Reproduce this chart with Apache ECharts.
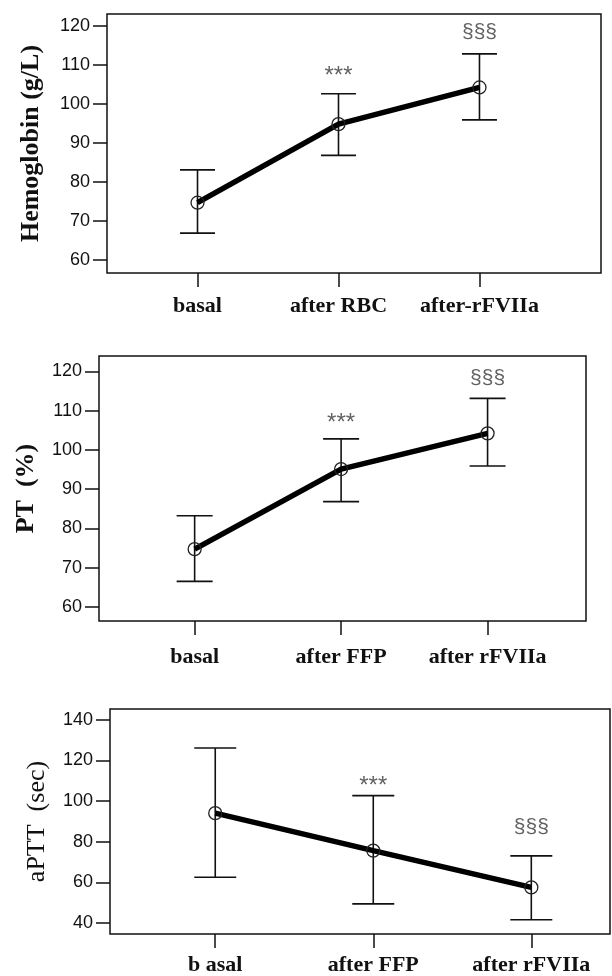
<!DOCTYPE html>
<html>
<head>
<meta charset="utf-8">
<style>
  html, body { margin: 0; padding: 0; background: #fff; }
  #chart { width: 612px; height: 976px; }
</style>
<script src="https://cdn.jsdelivr.net/npm/echarts@6/dist/echarts.min.js"></script>
</head>
<body>
<div id="chart"></div>
<script>
// --- data ---
const hbCategories = ['basal', 'after RBC', 'after-rFVIIa'];
const hbMean = [74.7, 94.8, 104.2];
const hbLow = [66.9, 86.8, 95.9];
const hbHigh = [83.1, 102.6, 112.8];
const hbTicks = [60, 70, 80, 90, 100, 110, 120];

const ptCategories = ['basal', 'after FFP', 'after rFVIIa'];
const ptMean = [74.7, 95.1, 104.2];
const ptLow = [66.5, 86.8, 95.9];
const ptHigh = [83.2, 102.8, 113.1];
const ptTicks = [60, 70, 80, 90, 100, 110, 120];

const apttCategories = ['b asal', 'after FFP', 'after rFVIIa'];
const apttMean = [94.0, 75.6, 57.5];
const apttLow = [62.5, 49.4, 41.6];
const apttHigh = [126.0, 102.6, 73.0];
const apttTicks = [40, 60, 80, 100, 120, 140];

// significance marks: [category index, y value, text]
const hbMarks = [[1, 108.6, '***'], [2, 118.3, '§§§']];
const ptMarks = [[1, 108.2, '***'], [2, 118.2, '§§§']];
const apttMarks = [[1, 110.0, '***'], [2, 87.3, '§§§']];

// --- layout per panel ---
const panels = [
  { name: 'Hemoglobin (g/L)', nameBold: 'bold', cats: hbCategories, mean: hbMean, low: hbLow, high: hbHigh,
    ticks: hbTicks, marks: hbMarks, yMin: 56.7, yMax: 123.0, xMin: -0.642, xMax: 2.862,
    grid: { left: 107, top: 14, width: 494, height: 259 }, cap: 35, nameGap: 63, labelMargin: 22 },
  { name: 'PT  (%)', nameBold: 'bold', cats: ptCategories, mean: ptMean, low: ptLow, high: ptHigh,
    ticks: ptTicks, marks: ptMarks, yMin: 56.4, yMax: 123.9, xMin: -0.653, xMax: 2.672,
    grid: { left: 99, top: 356, width: 487, height: 265 }, cap: 36, nameGap: 60, labelMargin: 25 },
  { name: 'aPTT  (sec)', nameBold: 'normal', cats: apttCategories, mean: apttMean, low: apttLow, high: apttHigh,
    ticks: apttTicks, marks: apttMarks, yMin: 34.6, yMax: 145.2, xMin: -0.666, xMax: 2.498,
    grid: { left: 110, top: 709, width: 500, height: 227 }, cap: 42, nameGap: 60, labelMargin: 20 },
];

const grid = [], xAxis = [], yAxis = [], series = [];

panels.forEach((p, i) => {
  grid.push(Object.assign({ show: true, borderColor: '#111', borderWidth: 1.5, backgroundColor: 'transparent' }, p.grid));
  xAxis.push({
    type: 'value', gridIndex: i, min: p.xMin, max: p.xMax, position: 'bottom',
    splitLine: { show: false }, axisLine: { show: false, onZero: false },
    axisTick: { show: true, customValues: [0, 1, 2], length: 14, inside: false, lineStyle: { color: '#111', width: 1.5 } },
    axisLabel: {
      customValues: [0, 1, 2], margin: p.labelMargin,
      formatter: v => p.cats[Math.round(v)] || '',
      fontFamily: 'Liberation Serif', fontWeight: 'bold', fontSize: 22, color: '#111'
    }
  });
  yAxis.push({
    type: 'value', gridIndex: i, min: p.yMin, max: p.yMax, position: 'left',
    splitLine: { show: false }, axisLine: { show: false, onZero: false },
    axisTick: { show: true, customValues: p.ticks, length: 14, lineStyle: { color: '#111', width: 1.5 } },
    axisLabel: { customValues: p.ticks, margin: 17, fontFamily: 'Liberation Sans', fontSize: 18, color: '#111' },
    name: p.name, nameLocation: 'middle', nameGap: p.nameGap,
    nameTextStyle: { fontFamily: 'Liberation Serif', fontWeight: p.nameBold, fontSize: 26, color: '#111' }
  });

  // error bars
  series.push({
    type: 'custom', xAxisIndex: i, yAxisIndex: i,
    data: p.low.map((lo, k) => [k, lo, p.high[k]]),
    encode: { x: 0, y: [1, 2] },
    renderItem: (params, api) => {
      const x = api.value(0);
      const lo = api.coord([x, api.value(1)]);
      const hi = api.coord([x, api.value(2)]);
      const h = p.cap / 2;
      const style = { stroke: '#111', lineWidth: 1.6 };
      return {
        type: 'group',
        children: [
          { type: 'line', shape: { x1: lo[0], y1: lo[1], x2: hi[0], y2: hi[1] }, style },
          { type: 'line', shape: { x1: hi[0] - h, y1: hi[1], x2: hi[0] + h, y2: hi[1] }, style },
          { type: 'line', shape: { x1: lo[0] - h, y1: lo[1], x2: lo[0] + h, y2: lo[1] }, style }
        ]
      };
    },
    z: 1
  });

  // mean line
  series.push({
    type: 'line', xAxisIndex: i, yAxisIndex: i,
    data: p.mean.map((m, k) => [k, m]),
    lineStyle: { color: '#000', width: 5.5 },
    symbol: 'circle', symbolSize: 13,
    itemStyle: { color: 'rgba(255,255,255,0)', borderColor: '#222', borderWidth: 1.3 },
    z: 2
  });

  // significance labels
  series.push({
    type: 'scatter', xAxisIndex: i, yAxisIndex: i,
    data: p.marks.map(m => ({
      value: [m[0], m[1]], name: m[2],
      label: m[2] === '***' ? { fontSize: 24, offset: [0, 6] } : { fontSize: 21 }
    })),
    symbolSize: 0, itemStyle: { color: 'rgba(0,0,0,0)' },
    label: {
      show: true, position: 'inside', formatter: d => d.name,
      fontFamily: 'Liberation Sans', color: '#3a3a3a'
    },
    z: 3
  });
});

const chart = echarts.init(document.getElementById('chart'), null, { renderer: 'canvas' });
chart.setOption({ animation: false, backgroundColor: '#fff', grid, xAxis, yAxis, series });
</script>
</body>
</html>
